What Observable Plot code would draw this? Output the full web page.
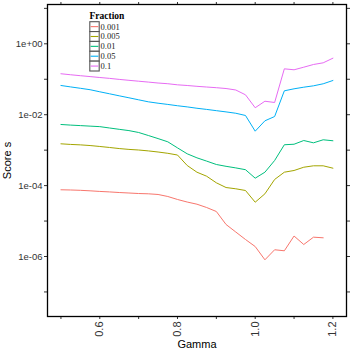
<!DOCTYPE html>
<html>
<head>
<meta charset="utf-8">
<script src="https://cdn.jsdelivr.net/npm/d3@7"></script>
<script src="https://cdn.jsdelivr.net/npm/@observablehq/plot@0.6"></script>
<style>
  html, body { margin: 0; padding: 0; background: white; }
</style>
</head>
<body>
<div id="chart"></div>
<script>
// ---- data ----
const gamma = [0.5, 0.525, 0.55, 0.575, 0.6, 0.625, 0.65, 0.675, 0.7, 0.725, 0.75, 0.775, 0.8, 0.825, 0.85,
               0.875, 0.9, 0.925, 0.95, 0.975, 1.0, 1.025, 1.05, 1.075, 1.1, 1.125, 1.15, 1.175, 1.2];
const fractions = ["0.001", "0.005", "0.01", "0.05", "0.1"];
const colors = ["#F8766D", "#A3A500", "#00BF7D", "#00B0F6", "#E76BF3"];

const score_0_001 = [7.62e-5, 7.52e-5, 7.36e-5, 7.13e-5, 6.85e-5, 6.64e-5, 6.38e-5, 6.18e-5, 5.98e-5, 5.87e-5,
                     5.62e-5, 4.93e-5, 4.06e-5, 3.44e-5, 2.99e-5, 2.41e-5, 1.86e-5, 8.0e-6, 4.91e-6, 3.02e-6,
                     1.91e-6, 8.07e-7, 1.55e-6, 1.45e-6, 3.78e-6, 2.18e-6, 3.51e-6, 3.37e-6];
const score_0_005 = [1.51e-3, 1.45e-3, 1.41e-3, 1.35e-3, 1.27e-3, 1.19e-3, 1.11e-3, 1.05e-3, 1.01e-3, 9.53e-4,
                     8.87e-4, 8.15e-4, 7.29e-4, 3.69e-4, 2.39e-4, 1.84e-4, 1.20e-4, 8.83e-5, 8.13e-5, 7.28e-5,
                     3.40e-5, 5.87e-5, 1.49e-4, 2.39e-4, 2.67e-4, 3.30e-4, 3.62e-4, 3.62e-4, 3.10e-4];
const score_0_01  = [5.30e-3, 5.09e-3, 4.93e-3, 4.76e-3, 4.61e-3, 4.22e-3, 3.87e-3, 3.56e-3, 3.15e-3, 2.59e-3,
                     2.12e-3, 1.72e-3, 1.16e-3, 7.89e-4, 6.08e-4, 4.91e-4, 3.94e-4, 3.50e-4, 3.16e-4, 2.81e-4,
                     1.62e-4, 2.39e-4, 5.11e-4, 1.42e-3, 1.47e-3, 1.87e-3, 1.61e-3, 1.96e-3, 1.84e-3];
const score_0_05  = [0.0667, 0.0608, 0.0556, 0.0507, 0.0443, 0.0389, 0.0341, 0.0300, 0.0263, 0.0231,
                     0.0211, 0.0195, 0.0179, 0.0166, 0.0152, 0.0141, 0.0130, 0.0120, 0.0110, 0.00951,
                     0.00343, 0.00673, 0.00889, 0.0472, 0.0538, 0.0597, 0.0653, 0.0745, 0.0923];
const score_0_1   = [0.143, 0.134, 0.126, 0.119, 0.112, 0.106, 0.0991, 0.0933, 0.0881, 0.0832,
                     0.0783, 0.0748, 0.0697, 0.0667, 0.0632, 0.0604, 0.0578, 0.0548, 0.0498, 0.0364,
                     0.0157, 0.0240, 0.0221, 0.197, 0.185, 0.219, 0.261, 0.291, 0.393];

const xMajor = [0.6, 0.8, 1.0, 1.2];
const xMinor = [0.5, 0.7, 0.9, 1.1];
const yMajor = [1, 1e-2, 1e-4, 1e-6];
const yMinor = [10, 1e-1, 1e-3, 1e-5, 1e-7];

// ---- build table ----
const seriesList = [score_0_001, score_0_005, score_0_01, score_0_05, score_0_1];
const rows = [];
seriesList.forEach((vals, k) => vals.forEach((v, i) => rows.push({gamma: gamma[i], score: v, fraction: fractions[k]})));

const sciFmt = d => {
  const e = Math.round(Math.log10(d));
  return "1e" + (e < 0 ? "-" : "+") + String(Math.abs(e)).padStart(2, "0");
};
const tickColor = "#333";
const blank = () => "";

const chart = Plot.plot({
  width: 350,
  height: 350,
  marginLeft: 47,
  marginRight: 4,
  marginTop: 4,
  marginBottom: 34,
  style: {fontFamily: "'Liberation Sans', Arial, sans-serif", fontSize: "9.5px", background: "white", color: "#333"},
  x: {domain: [0.4654, 1.235]},
  y: {type: "log", domain: [2.03e-8, 12.85]},
  color: {domain: fractions, range: colors},
  marks: [
    Plot.line(rows, {x: "gamma", y: "score", stroke: "fraction", strokeWidth: 1}),
    Plot.axisX({anchor: "bottom", ticks: xMajor, tickFormat: d => d.toFixed(1), tickRotate: -90, tickSize: 3, tickPadding: 2, stroke: tickColor,
                label: "Gamma", labelAnchor: "center", labelArrow: "none", labelOffset: 31, fontSize: 11}),
    Plot.axisX({anchor: "bottom", ticks: xMinor, tickFormat: blank, tickSize: 3, stroke: tickColor, label: null}),
    Plot.axisX({anchor: "top", ticks: xMajor.concat(xMinor), tickFormat: blank, tickSize: 3, stroke: tickColor, label: null}),
    Plot.axisY({anchor: "left", ticks: yMajor, tickFormat: sciFmt, tickSize: 3, tickPadding: 2, stroke: tickColor,
                label: "Score s", labelAnchor: "center", labelArrow: "none", labelOffset: 44}),
    Plot.axisY({anchor: "left", ticks: yMinor, tickFormat: blank, tickSize: 3, stroke: tickColor, label: null}),
    Plot.axisY({anchor: "right", ticks: yMajor.concat(yMinor), tickFormat: blank, tickSize: 3, stroke: tickColor, label: null}),
    Plot.frame({stroke: "black", strokeWidth: 1.3})
  ]
});

// axis title font sizes / colors
d3.select(chart).selectAll("[aria-label='x-axis label'] text, [aria-label='y-axis label'] text")
  .attr("font-size", 11).attr("fill", "black");

document.getElementById("chart").appendChild(chart);

// ---- legend (inside panel, top-left) ----
const svg = d3.select(chart);
const lg = svg.append("g")
  .attr("font-family", "'Liberation Serif', 'Times New Roman', serif")
  .attr("text-anchor", "start");
lg.append("text").attr("x", 89.5).attr("y", 18.5).attr("font-size", 9.5).attr("font-weight", "bold")
  .attr("text-anchor", "start").attr("fill", "black").text("Fraction");
const keyH = 9.86, keyW = 9.4, key0 = 21.7;
fractions.forEach((f, i) => {
  const y0 = key0 + i * keyH;
  lg.append("rect").attr("x", 89.8).attr("y", y0).attr("width", keyW).attr("height", keyH)
    .attr("fill", "white").attr("stroke", "#555").attr("stroke-width", 1.1);
  lg.append("line").attr("x1", 90.6).attr("x2", 98.4).attr("y1", y0 + keyH / 2).attr("y2", y0 + keyH / 2)
    .attr("stroke", colors[i]).attr("stroke-width", 1.1);
  lg.append("text").attr("x", 100.5).attr("y", y0 + keyH / 2).attr("dy", "0.35em")
    .attr("text-anchor", "start").attr("font-size", 8.5).attr("fill", "#222").text(f);
});
</script>
</body>
</html>
